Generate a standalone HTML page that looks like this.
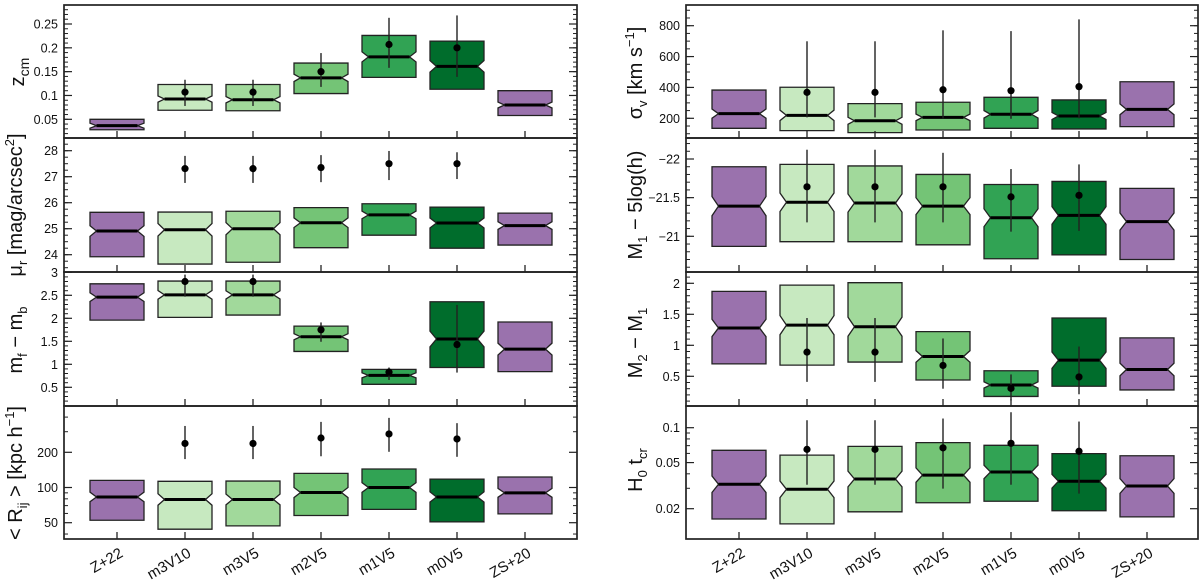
<!DOCTYPE html>
<html><head><meta charset="utf-8"><style>
html,body{margin:0;padding:0;background:#fff;}
svg{display:block;font-family:"Liberation Sans",sans-serif;}
</style></head><body>
<svg id="fig" width="1200" height="586" viewBox="0 0 1200 586" xmlns="http://www.w3.org/2000/svg"></svg>
<script>
const categories = ["Z+22","m3V10","m3V5","m2V5","m1V5","m0V5","ZS+20"];
const boxColors = ["#9a72ad","#c7e9c0","#a1d99b","#74c476","#31a354","#006d2c","#9a72ad"];

// zcm
const zcmQ1 = [0.028,0.069,0.068,0.104,0.138,0.113,0.058];
const zcmMed = [0.0366,0.0925,0.091,0.137,0.181,0.161,0.080];
const zcmQ3 = [0.050,0.123,0.123,0.168,0.226,0.214,0.110];
const zcmPt = [null,0.107,0.107,0.150,0.207,0.200,null];
const zcmLo = [null,0.078,0.078,0.118,0.158,0.139,null];
const zcmHi = [null,0.133,0.133,0.189,0.263,0.268,null];
const zcmTicks = [0.05,0.1,0.15,0.2,0.25];
const zcmTickLabels = ["0.05","0.1","0.15","0.2","0.25"];

// mu_r
const muQ1 = [23.92,23.64,23.71,24.27,24.75,24.25,24.37];
const muMed = [24.91,24.96,25.0,25.23,25.53,25.22,25.12];
const muQ3 = [25.63,25.64,25.67,25.81,25.96,25.83,25.6];
const muPt = [null,27.31,27.31,27.35,27.5,27.5,null];
const muLo = [null,26.76,26.76,26.79,26.87,26.91,null];
const muHi = [null,27.8,27.8,27.83,27.99,27.94,null];
const muTicks = [24,25,26,27,28];
const muTickLabels = ["24","25","26","27","28"];

// mf - mb
const mfQ1 = [1.96,2.02,2.07,1.28,0.565,0.93,0.84];
const mfMed = [2.46,2.51,2.51,1.6,0.76,1.55,1.33];
const mfQ3 = [2.75,2.81,2.81,1.83,0.89,2.36,1.92];
const mfPt = [null,2.8,2.8,1.75,0.83,1.43,null];
const mfLo = [null,2.47,2.47,1.49,0.66,0.82,null];
const mfHi = [null,2.95,2.95,1.91,0.93,2.29,null];
const mfTicks = [0.5,1,1.5,2,2.5,3];
const mfTickLabels = ["0.5","1","1.5","2","2.5","3"];

// Rij
const rQ1 = [52.5,44,47,57.6,65,50.8,59.5];
const rMed = [83,79,79,90.6,100,83,90];
const rQ3 = [115,113,113.5,132,144,118,123];
const rPt = [null,238,238,265,287,260,null];
const rLo = [null,175,175,185,202,183,null];
const rHi = [null,336,336,364,394,355,null];
const rTicks = [50,100,200];
const rTickLabels = ["50","100","200"];

// sigma_v
const sQ1 = [135,120,107,124,135,131,146];
const sMed = [230,219,184,206,226,215,258];
const sQ3 = [383,401,295,304,336,319,437];
const sPt = [null,368,368,385,379,405,null];
const sLo = [null,206,206,200,197,200,null];
const sHi = [null,699,699,770,765,841,null];
const sTicks = [200,400,600,800];
const sTickLabels = ["200","400","600","800"];

// M1 - 5log(h)
const m1Q1 = [-20.87,-20.93,-20.93,-20.89,-20.71,-20.76,-20.7];
const m1Med = [-21.39,-21.44,-21.43,-21.39,-21.24,-21.27,-21.19];
const m1Q3 = [-21.9,-21.93,-21.91,-21.8,-21.67,-21.71,-21.62];
const m1Pt = [null,-21.64,-21.64,-21.64,-21.51,-21.53,null];
const m1Lo = [null,-21.18,-21.18,-21.18,-21.06,-21.07,null];
const m1Hi = [null,-22.12,-22.12,-22.08,-21.87,-21.93,null];
const m1Ticks = [-22,-21.5,-21];
const m1TickLabels = ["\u221222","\u221221.5","\u221221"];

// M2 - M1
const m2Q1 = [0.7,0.68,0.73,0.44,0.175,0.34,0.28];
const m2Med = [1.28,1.325,1.3,0.82,0.36,0.76,0.61];
const m2Q3 = [1.87,1.97,2.01,1.22,0.59,1.44,1.12];
const m2Pt = [null,0.89,0.89,0.675,0.305,0.49,null];
const m2Lo = [null,0.41,0.41,0.3,0.11,0.21,null];
const m2Hi = [null,1.44,1.44,1.11,0.53,0.98,null];
const m2Ticks = [0.5,1,1.5,2];
const m2TickLabels = ["0.5","1","1.5","2"];

// H0 tcr
const hQ1 = [0.0163,0.0148,0.0188,0.0225,0.0232,0.0192,0.017];
const hMed = [0.0325,0.0294,0.0361,0.039,0.0415,0.0345,0.0314];
const hQ3 = [0.0638,0.058,0.069,0.0743,0.0705,0.0597,0.0573];
const hPt = [null,0.065,0.065,0.067,0.0733,0.0626,null];
const hLo = [null,0.0322,0.0322,0.0298,0.0322,0.027,null];
const hHi = [null,0.116,0.116,0.12,0.136,0.113,null];
const hTicks = [0.02,0.05,0.1];
const hTickLabels = ["0.02","0.05","0.1"];

const NS = "http://www.w3.org/2000/svg";
const svg = document.getElementById('fig');
function mk(tag, attrs, parent){
  const e = document.createElementNS(NS, tag);
  for (const k in attrs) e.setAttribute(k, attrs[k]);
  (parent||svg).appendChild(e);
  return e;
}
function rng(a,b,s){const r=[];for(let v=a;v<=b+1e-9;v+=s)r.push(+v.toFixed(6));return r;}

function linY(v0,y0,v1,y1){return v=>y0+(v-v0)*(y1-y0)/(v1-v0);}
function logY(v0,y0,v1,y1){return v=>y0+(Math.log(v)-Math.log(v0))*(y1-y0)/(Math.log(v1)-Math.log(v0));}

function panel(o){
  const g = mk('g',{});
  
  
  const {x0,x1,yt,yb,y} = o;
  categories.forEach((c,i)=>{
    const cx = x0+53+i*68, hw=27, ind=6.5;
    const t=y(o.q3[i]), b=y(o.q1[i]), m=y(o.med[i]);
    const top=Math.min(t,b), bot=Math.max(t,b);
    const n=Math.max(2.5,0.12*(bot-top));
    const d=`M${cx-hw},${top}L${cx+hw},${top}L${cx+hw},${m-n}L${cx+hw-ind},${m}L${cx+hw},${m+n}L${cx+hw},${bot}L${cx-hw},${bot}L${cx-hw},${m+n}L${cx-hw+ind},${m}L${cx-hw},${m-n}Z`;
    const p = mk('path',{d:d,fill:boxColors[i],stroke:'#222','stroke-width':1.3},g);
    
    
    const ml = mk('line',{x1:cx-hw+ind,x2:cx+hw-ind,y1:m,y2:m,stroke:'#000','stroke-width':3},g);
    
    
    if (o.pt[i]!==null){
      const el = mk('line',{x1:cx,x2:cx,y1:y(o.lo[i]),y2:y(o.hi[i]),stroke:'#222','stroke-width':1.4},g);
      
      
      const pt = mk('circle',{cx:cx,cy:y(o.pt[i]),r:3.6,fill:'#000'},g);
      
      
    }
    mk('line',{x1:cx,x2:cx,y1:yb,y2:yb-7,stroke:'#222','stroke-width':1.3},g);
  });
  const fr = mk('rect',{x:x0,y:yt,width:x1-x0,height:yb-yt,fill:'none',stroke:'#222','stroke-width':1.7},g);
  
  
  o.minor.forEach(v=>{const yy=y(v); if(yy<yt+1||yy>yb-1)return;
    mk('line',{x1:x0,x2:x0+4,y1:yy,y2:yy,stroke:'#222','stroke-width':1},g);
    mk('line',{x1:x1,x2:x1-4,y1:yy,y2:yy,stroke:'#222','stroke-width':1},g);});
  o.ticks.forEach((v,k)=>{const yy=y(v);
    mk('line',{x1:x0,x2:x0+8,y1:yy,y2:yy,stroke:'#222','stroke-width':1.2},g);
    mk('line',{x1:x1,x2:x1-8,y1:yy,y2:yy,stroke:'#222','stroke-width':1.2},g);
    const t = mk('text',{x:x0-6,y:yy+4.5,'text-anchor':'end','font-size':12.5,fill:'#111'},g);
    t.textContent = o.labels[k];
    
    
  });
}

const L0=64, L1=577, R0=686, R1=1198;

panel({name:'zcm-panel',x0:L0,x1:L1,yt:5,yb:138,y:linY(0.05,119.3,0.25,24),q1:zcmQ1,med:zcmMed,q3:zcmQ3,pt:zcmPt,lo:zcmLo,hi:zcmHi,ticks:zcmTicks,labels:zcmTickLabels,minor:rng(0.01,0.28,0.01)});
panel({name:'mu-r-panel',x0:L0,x1:L1,yt:138,yb:272,y:linY(24,254.7,28,150.7),q1:muQ1,med:muMed,q3:muQ3,pt:muPt,lo:muLo,hi:muHi,ticks:muTicks,labels:muTickLabels,minor:rng(23.25,28.5,0.25)});
panel({name:'mf-mb-panel',x0:L0,x1:L1,yt:272,yb:406,y:linY(0.5,387.3,2.5,295.3),q1:mfQ1,med:mfMed,q3:mfQ3,pt:mfPt,lo:mfLo,hi:mfHi,ticks:mfTicks,labels:mfTickLabels,minor:rng(0.1,3,0.1)});
panel({name:'rij-panel',x0:L0,x1:L1,yt:406,yb:539,y:logY(50,522.7,200,452.3),q1:rQ1,med:rMed,q3:rQ3,pt:rPt,lo:rLo,hi:rHi,ticks:rTicks,labels:rTickLabels,minor:[40,60,70,80,90,300,400]});
panel({name:'sigma-v-panel',x0:R0,x1:R1,yt:5,yb:138,y:linY(200,118.3,800,25.7),q1:sQ1,med:sMed,q3:sQ3,pt:sPt,lo:sLo,hi:sHi,ticks:sTicks,labels:sTickLabels,minor:rng(100,900,50)});
panel({name:'m1-panel',x0:R0,x1:R1,yt:138,yb:272,y:linY(-22,159,-21,236.3),q1:m1Q1,med:m1Med,q3:m1Q3,pt:m1Pt,lo:m1Lo,hi:m1Hi,ticks:m1Ticks,labels:m1TickLabels,minor:rng(-22.2,-20.6,0.1)});
panel({name:'m2-m1-panel',x0:R0,x1:R1,yt:272,yb:406,y:linY(1,345.3,1.5,314.3),q1:m2Q1,med:m2Med,q3:m2Q3,pt:m2Pt,lo:m2Lo,hi:m2Hi,ticks:m2Ticks,labels:m2TickLabels,minor:rng(0.1,2.1,0.1)});
panel({name:'h0-tcr-panel',x0:R0,x1:R1,yt:406,yb:539,y:logY(0.02,508.7,0.1,427.7),q1:hQ1,med:hMed,q3:hQ3,pt:hPt,lo:hLo,hi:hHi,ticks:hTicks,labels:hTickLabels,minor:[0.03,0.04,0.06,0.07,0.08,0.09,0.2]});

[L0,R0].forEach(x0=>{
  categories.forEach((c,i)=>{
    const cx=x0+53+i*68;
    const t=mk('text',{x:cx+7,y:556,'text-anchor':'end','font-size':15,fill:'#111',transform:`rotate(-30 ${cx+7} 556)`});
    t.textContent=c;
    
    
  });
});

function title(x,y,html,name){
  const t=mk('text',{x:x,y:y,'text-anchor':'middle','font-size':20,fill:'#111',transform:`rotate(-90 ${x} ${y})`});
  t.innerHTML=html;
  
  
}
title(24,72,'z<tspan font-size="14" dy="5">cm</tspan>','zcm-axis-title');
title(22,205,'μ<tspan font-size="13" dy="5">r</tspan><tspan dy="-5"> [mag/arcsec</tspan><tspan font-size="13" dy="-8">2</tspan><tspan dy="8">]</tspan>','mu-r-axis-title');
title(22,340,'m<tspan font-size="13" dy="5">f</tspan><tspan dy="-5"> − m</tspan><tspan font-size="13" dy="5">b</tspan>','mf-mb-axis-title');
title(22,473,'&lt; R<tspan font-size="13" dy="5">ij</tspan><tspan dy="-5"> &gt; [kpc h</tspan><tspan font-size="13" dy="-8">−1</tspan><tspan dy="8">]</tspan>','rij-axis-title');
title(642,73,'σ<tspan font-size="13" dy="5">v</tspan><tspan dy="-5"> [km s</tspan><tspan font-size="13" dy="-8">−1</tspan><tspan dy="8">]</tspan>','sigma-v-axis-title');
title(642,205,'M<tspan font-size="13" dy="5">1</tspan><tspan dy="-5"> − 5log(h)</tspan>','m1-axis-title');
title(642,343,'M<tspan font-size="13" dy="5">2</tspan><tspan dy="-5">  −  M</tspan><tspan font-size="13" dy="5">1</tspan>','m2-m1-axis-title');
title(642,470,'H<tspan font-size="13" dy="5">0</tspan><tspan dy="-5"> t</tspan><tspan font-size="13" dy="5">cr</tspan>','h0-tcr-axis-title');
</script>
</body></html>
